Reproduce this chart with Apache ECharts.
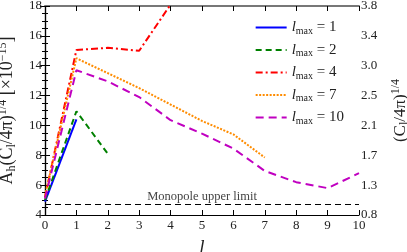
<!DOCTYPE html>
<html><head><meta charset="utf-8">
<script src="https://cdn.jsdelivr.net/npm/echarts@6/dist/echarts.min.js"></script>
<style>html,body{margin:0;padding:0;background:#fff}#c{width:407px;height:252px}</style>
</head><body><div id="c"></div>
<script>
const ells = [0,1,2,3,4,5,6,7,8,9,10];
const lmax1 = [4.9, 10.4];
const lmax2 = [5.0, 10.95, 8.1];
const lmax4 = [5.2, 15.05, 15.2, 15.0, 18.1];
const lmax7 = [5.3, 14.5, 13.5, 12.5, 11.4, 10.3, 9.4, 7.85];
const lmax10 = [5.1, 13.7, 12.95, 11.9, 10.35, 9.45, 8.45, 6.95, 6.2, 5.8, 6.8];
const monopole = 4.7;
const leftTicks = [4,6,8,10,12,14,16,18];
const rightTickLabels = ['0.8','1.3','1.7','2.1','2.5','3.0','3.4','3.8'];
const names = ['1','2','4','7','10'];

const FONT = 'Liberation Serif';
const chart = echarts.init(document.getElementById('c'));
const pts = arr => arr.map((v,i)=>[ells[i], v]);
const styles = [
  {color:'#0000ff', type:'solid'},
  {color:'#008000', type:[6,4]},
  {color:'#ff0000', type:[7,3,2,3]},
  {color:'#ff8c00', type:[2,1.5]},
  {color:'#c000c0', type:[8,5]}
];
const datas = [lmax1,lmax2,lmax4,lmax7,lmax10];
const series = datas.map((d,k)=>({
  name: names[k], type:'line', data: pts(d), symbol:'none', showSymbol:false, clip:true,
  lineStyle:{color:styles[k].color, type:styles[k].type, width:2},
  itemStyle:{color:styles[k].color}, z: 3
}));
series.push({
  name:'mono', type:'line', data:[], symbol:'none',
  markLine:{symbol:'none', silent:true,
    lineStyle:{color:'#000', type:[6,4], width:1.2},
    label:{position:'insideMiddleTop', formatter:'Monopole upper limit', color:'#444', fontFamily:FONT, fontSize:12.5, distance:1},
    data:[{yAxis: monopole}]}
});
const rich3 = (fs, ss) => ({
  t:{fontFamily:FONT, fontSize:fs, color:'#222'},
  s:{fontFamily:FONT, fontSize:ss, color:'#222', verticalAlign:'bottom', padding:[Math.round(fs*0.5),0,0,0]},
  p:{fontFamily:FONT, fontSize:ss, color:'#222', verticalAlign:'top', padding:[0,0,Math.round(fs*0.5),0]}
});
const axisCommon = {
  axisLine:{show:true, lineStyle:{color:'#000', width:1.2}},
  axisTick:{show:true, inside:true, length:5, lineStyle:{color:'#000'}},
  splitLine:{show:false},
  axisLabel:{color:'#222', fontFamily:FONT, fontSize:13}
};
chart.setOption({
  animation:false,
  grid:{left:45, right:48, top:6, bottom:37, outerBoundsMode:'none', containLabel:false},
  legend:{
    data:names, orient:'vertical', right:58, top:15, itemWidth:31, itemHeight:12, itemGap:6.5,
    itemStyle:{opacity:0},
    textStyle:{fontFamily:FONT, fontSize:15, color:'#222',
      rich:{i:{fontStyle:'italic', fontSize:15, fontFamily:FONT, color:'#222'}, s:{fontSize:10, fontFamily:FONT, color:'#222', verticalAlign:'bottom', padding:[7,0,0,0]}, e:{fontSize:15, fontFamily:FONT, color:'#222'}}},
    formatter: n => '{i|l}{s|max}{e| = ' + n + '}'
  },
  xAxis:[
    Object.assign({}, axisCommon, {type:'value', min:0, max:10, interval:1, position:'bottom',
      name:'l', nameLocation:'middle', nameGap:23, nameTextStyle:{fontFamily:FONT, fontStyle:'italic', fontSize:19, color:'#222'},
      axisLabel:Object.assign({}, axisCommon.axisLabel, {margin:4})}),
    Object.assign({}, axisCommon, {type:'value', min:0, max:10, interval:1, position:'top', axisLabel:{show:false},
      axisLine:{show:true, lineStyle:{color:'#777', width:2}}})
  ],
  yAxis:[
    Object.assign({}, axisCommon, {type:'value', min:4, max:18, interval:2, position:'left',
      minorTick:{show:true, splitNumber:4, length:3, lineStyle:{color:'#000'}},
      axisLabel:Object.assign({}, axisCommon.axisLabel, {margin:3}),
      name:'{t|A}{s|h}{t|(C}{s|l}{t|/4π)}{p|1/4}{t| [×10}{p|−15}{t|]}',
      nameLocation:'middle', nameRotate:90, nameGap:23,
      nameTextStyle:{fontFamily:FONT, fontSize:18, color:'#222', rich:rich3(18,12)}}),
    Object.assign({}, axisCommon, {type:'value', min:4, max:18, interval:2, position:'right',
      minorTick:{show:true, splitNumber:4, length:3, lineStyle:{color:'#000'}},
      axisLabel:Object.assign({}, axisCommon.axisLabel, {margin:2, formatter:(v)=>rightTickLabels[leftTicks.indexOf(v)]}),
      name:'{t|(C}{s|l}{t|/4π)}{p|1/4}',
      nameLocation:'middle', nameRotate:90, nameGap:31,
      nameTextStyle:{fontFamily:FONT, fontSize:17, color:'#222', rich:rich3(17,12)}})
  ],
  series: series
});
</script></body></html>
